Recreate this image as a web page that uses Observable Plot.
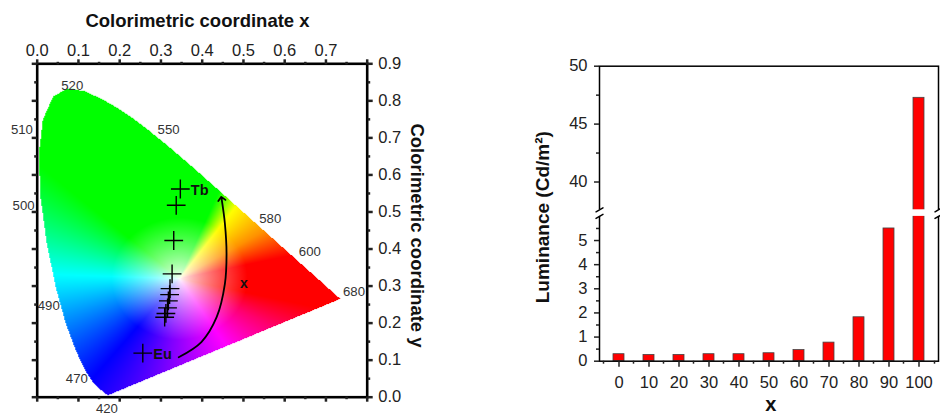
<!DOCTYPE html>
<html>
<head>
<meta charset="utf-8">
<script src="https://cdn.jsdelivr.net/npm/d3@7"></script>
<script src="https://cdn.jsdelivr.net/npm/@observablehq/plot@0.6"></script>
<style>
  html, body { margin: 0; padding: 0; background: #fff; }
  #wrap { position: relative; width: 940px; height: 416px; overflow: hidden; font-family: "Liberation Sans", Arial, sans-serif; }
  #left { position: absolute; left: 0; top: 0; }
  #right { position: absolute; left: 470px; top: 0; }
</style>
</head>
<body>
<div id="wrap"><div id="left"></div><div id="right"></div></div>
<script>
// ---------- Data: CIE 1931 spectral locus (420–700 nm) ----------
const locusNm = [420,425,430,435,440,445,450,455,460,465,470,475,480,485,490,495,500,505,510,515,520,525,530,535,540,545,550,555,560,565,570,575,580,585,590,595,600,605,610,615,620,625,630,635,640,645,650,655,660,665,670,680,690,700];
const locusX = [0.1714,0.1703,0.1689,0.1669,0.1644,0.1611,0.1566,0.1510,0.1440,0.1355,0.1241,0.1096,0.0913,0.0687,0.0454,0.0235,0.0082,0.0039,0.0139,0.0389,0.0743,0.1142,0.1547,0.1929,0.2296,0.2658,0.3016,0.3373,0.3731,0.4087,0.4441,0.4788,0.5125,0.5448,0.5752,0.6029,0.6270,0.6482,0.6658,0.6801,0.6915,0.7006,0.7079,0.7140,0.7190,0.7230,0.7260,0.7283,0.7300,0.7311,0.7320,0.7334,0.7344,0.7347];
const locusY = [0.0051,0.0058,0.0069,0.0086,0.0109,0.0138,0.0177,0.0227,0.0297,0.0399,0.0578,0.0868,0.1327,0.2007,0.2950,0.4127,0.5384,0.6548,0.7502,0.8120,0.8338,0.8262,0.8059,0.7816,0.7543,0.7243,0.6923,0.6589,0.6245,0.5896,0.5547,0.5202,0.4866,0.4544,0.4242,0.3965,0.3725,0.3514,0.3340,0.3197,0.3083,0.2993,0.2920,0.2859,0.2809,0.2770,0.2740,0.2717,0.2700,0.2689,0.2680,0.2666,0.2656,0.2653];

// wavelength labels (positions, in chromaticity units)
const wlText = ["520","510","500","490","470","420","550","580","600","680"];
const wlX = [0.085,-0.037,-0.033,0.028,0.096,0.169,0.3185,0.565,0.661,0.768];
const wlY = [0.842,0.721,0.518,0.248,0.050,-0.031,0.721,0.482,0.392,0.284];

// measured CIE coordinates for x = 0 ... 100
const ptX = [0.256,0.309,0.312,0.316,0.318,0.321,0.322,0.327,0.331,0.337,0.347];
const ptY = [0.119,0.216,0.226,0.241,0.260,0.277,0.293,0.333,0.423,0.518,0.562];
const ptName = ["Eu","","","","","","","","","","Tb"];

// arrow path and its label
const arrowX = [0.343,0.398,0.435,0.455,0.459,0.455,0.447];
const arrowY = [0.108,0.149,0.216,0.306,0.388,0.469,0.536];
const arrowLabel = ["x"];
const arrowLabelX = [0.501];
const arrowLabelY = [0.306];

// axes ticks (left chart)
const xMajor = [0,0.1,0.2,0.3,0.4,0.5,0.6,0.7,0.8];
const xMinor = [0.05,0.15,0.25,0.35,0.45,0.55,0.65,0.75];
const yMajor = [0,0.1,0.2,0.3,0.4,0.5,0.6,0.7,0.8,0.9];
const yMinor = [0.05,0.15,0.25,0.35,0.45,0.55,0.65,0.75,0.85];

// ---------- Data: luminance bar chart ----------
const lumX = ["0","10","20","30","40","50","60","70","80","90","100"];
const lumV = [0.29,0.26,0.26,0.29,0.29,0.33,0.46,0.77,1.82,5.50,47.27];
const yBreak = [6, 37.6];
const lowTicks = [0,1,2,3,4,5];
const lowMinor = [0.5,1.5,2.5,3.5,4.5,5.5];
const upTicks = [40,45,50];
const upMinor = [42.5,47.5];

// ---------- build gamut raster ----------
const FONT = '"Liberation Sans", Arial, sans-serif';
const WX = 0.345, WY = 0.32;
const hueAng = [-128,-96,-58,-30,-13,13,32,55,68,138,178,232];
const hueRGB = [[0,0,255],[128,0,255],[255,0,255],[255,0,110],[255,0,0],[255,0,0],[255,145,0],[255,255,0],[0,255,0],[0,255,0],[0,255,255],[0,0,255]];
function colorAt(x, y) {
  const dx = x - WX, dy = y - WY;
  let a = Math.atan2(dy, dx) * 180 / Math.PI;
  if (a < hueAng[0]) a += 360;
  let k = 1;
  while (k < hueAng.length - 1 && hueAng[k] < a) k++;
  const f = Math.max(0, Math.min(1, (a - hueAng[k-1]) / (hueAng[k] - hueAng[k-1])));
  const c0 = hueRGB[k-1], c1 = hueRGB[k];
  const t = Math.pow(Math.min(1, Math.hypot(dx, dy) / 0.165), 0.75);
  const c = c0.map((v, m) => v + (c1[m] - v) * f).map(v => Math.round(255 - (255 - v) * t));
  return `rgb(${c[0]},${c[1]},${c[2]})`;
}
const poly = locusX.map((x, i) => [x, locusY[i]]);
const NX = 330, NY = 333;
const gamut = [];
for (let j = 0; j < NY; j++) {
  for (let i = 0; i < NX; i++) {
    const x = (i + 0.5) / NX * 0.8, y = (j + 0.5) / NY * 0.9;
    if (d3.polygonContains(poly, [x, y])) gamut.push({x, y, c: colorAt(x, y)});
  }
}

const points = ptX.map((x, i) => ({x, y: ptY[i], name: ptName[i]}));
const arrow = arrowX.map((x, i) => ({x, y: arrowY[i]}));
const wl = wlText.map((t, i) => ({t, x: wlX[i], y: wlY[i]}));
const xLab = arrowLabel.map((t, i) => ({t, x: arrowLabelX[i], y: arrowLabelY[i]}));

const left = Plot.plot({
  width: 470, height: 416,
  marginLeft: 36.7, marginRight: 103.3, marginTop: 63.3, marginBottom: 19.3,
  x: {domain: [0, 0.8], label: null},
  y: {domain: [0, 0.9], label: null},
  color: {type: "identity"},
  style: {fontFamily: FONT, fontSize: "16.5px", color: "#222", background: "transparent", overflow: "visible"},
  marks: [
    Plot.raster(gamut, {x: "x", y: "y", fill: "c", x1: 0, x2: 0.8, y1: 0, y2: 0.9, width: NX, height: NY}),
    Plot.text(wl, {x: "x", y: "y", text: "t", fontSize: 13.2, fill: "#333", clip: false}),
    Plot.line(arrow, {x: "x", y: "y", curve: "catmull-rom", stroke: "black", strokeWidth: 1.8, markerEnd: "arrow"}),
    Plot.text(xLab, {x: "x", y: "y", text: "t", fontSize: 14, fontWeight: "bold", fill: "#111"}),
    Plot.dot(points, {x: "x", y: "y", symbol: "plus", r: 6.1, stroke: "black", strokeWidth: 1.4}),
    Plot.text(points.filter(d => d.name), {x: "x", y: "y", text: "name", dx: 10.5, dy: 1.5, textAnchor: "start", fontSize: 14.5, fontWeight: "bold", fill: "#111"}),
    Plot.frame({stroke: "black", strokeWidth: 2.6}),
    Plot.axisX({anchor: "top", ticks: xMajor, tickSize: 5, tickPadding: 3, strokeWidth: 2.5, fontSize: 16.5, tickFormat: d => d < 0.75 ? d.toFixed(1) : "", label: null}),
    Plot.axisX({anchor: "top", ticks: xMinor, tickSize: 2.5, strokeWidth: 2.5, tickFormat: () => "", label: null}),
    Plot.axisX({anchor: "bottom", ticks: xMajor, tickSize: 5, strokeWidth: 2.5, tickFormat: () => "", label: null}),
    Plot.axisX({anchor: "bottom", ticks: xMinor, tickSize: 2.5, strokeWidth: 2.5, tickFormat: () => "", label: null}),
    Plot.axisY({anchor: "left", ticks: yMajor, tickSize: 5, strokeWidth: 2.5, tickFormat: () => "", label: null}),
    Plot.axisY({anchor: "left", ticks: yMinor, tickSize: 2.5, strokeWidth: 2.5, tickFormat: () => "", label: null}),
    Plot.axisY({anchor: "right", ticks: yMajor, tickSize: 5, tickPadding: 6, strokeWidth: 2.5, fontSize: 16.5, tickFormat: d => d.toFixed(1), label: null}),
    Plot.axisY({anchor: "right", ticks: yMinor, tickSize: 2.5, strokeWidth: 2.5, tickFormat: () => "", label: null}),
    Plot.text(["Colorimetric coordinate x"], {frameAnchor: "top", dx: -4.7, dy: -42.3, textAnchor: "middle", lineAnchor: "middle", fontSize: 18.5, fontWeight: "bold", fill: "#111"}),
    Plot.text(["Colorimetric coordinate y"], {frameAnchor: "right", dx: 50, dy: 5, rotate: 90, textAnchor: "middle", lineAnchor: "middle", fontSize: 18.5, fontWeight: "bold", fill: "#111"})
  ]
});
document.getElementById("left").appendChild(left);

const bars = lumX.map((x, i) => ({x, v: lumV[i]}));
const right = Plot.plot({
  width: 470, height: 416,
  marginLeft: 129, marginRight: 2, marginTop: 65.7, marginBottom: 55.3,
  x: {type: "band", domain: lumX, paddingInner: 0.62, paddingOuter: 0.28, label: null},
  y: {type: "linear", domain: [0, yBreak[0], yBreak[1], 50], range: [360.7, 215.9, 209.3, 65.7], label: null},
  style: {fontFamily: FONT, fontSize: "16.5px", color: "#222", background: "transparent", overflow: "visible"},
  marks: [
    Plot.barY(bars, {x: "x", y: "v", fill: "#ff0000", stroke: "#444", strokeWidth: 0.8}),
    Plot.frame({stroke: "black", strokeWidth: 1.5}),
    Plot.rect([yBreak], {y1: d => d[0], y2: d => d[1], fill: "white", insetLeft: -4, insetRight: -4}),
    Plot.vector(yBreak, {y: d => d, frameAnchor: "left", length: 8, rotate: 60, anchor: "middle", shape: "arrow", r: 0, stroke: "black", strokeWidth: 1.5}),
    Plot.vector(yBreak, {y: d => d, frameAnchor: "right", length: 8, rotate: 60, anchor: "middle", shape: "arrow", r: 0, stroke: "black", strokeWidth: 1.5}),
    Plot.axisY({anchor: "left", ticks: lowTicks, tickSize: 5, tickPadding: 7, strokeWidth: 1.5, fontSize: 16.5, tickFormat: d => String(d), label: null}),
    Plot.axisY({anchor: "left", ticks: lowMinor, tickSize: 3, strokeWidth: 1.5, tickFormat: () => "", label: null}),
    Plot.axisY({anchor: "left", ticks: upTicks, tickSize: 5, tickPadding: 7, strokeWidth: 1.5, fontSize: 16.5, tickFormat: d => String(d), label: null}),
    Plot.axisY({anchor: "left", ticks: upMinor, tickSize: 3, strokeWidth: 1.5, tickFormat: () => "", label: null}),
    Plot.axisX({anchor: "bottom", ticks: lumX, tickSize: 6, tickPadding: 9, strokeWidth: 1.5, fontSize: 16.5, label: null}),
    Plot.axisX({anchor: "bottom", ticks: lumX, tickSize: 3, strokeWidth: 1.5, dx: -15.5, tickFormat: () => "", label: null}),
    Plot.axisX({anchor: "bottom", ticks: lumX.slice(-1), tickSize: 3, strokeWidth: 1.5, dx: 15.5, tickFormat: () => "", label: null}),
    Plot.text(["Luminance (Cd/m²)"], {frameAnchor: "left", dx: -56.5, dy: 3.5, rotate: -90, textAnchor: "middle", lineAnchor: "middle", fontSize: 19, fontWeight: "bold", fill: "#111"}),
    Plot.text(["x"], {frameAnchor: "bottom", dx: 1.8, dy: 43, textAnchor: "middle", lineAnchor: "middle", fontSize: 20, fontWeight: "bold", fill: "#111"})
  ]
});
document.getElementById("right").appendChild(right);
</script>
</body>
</html>
